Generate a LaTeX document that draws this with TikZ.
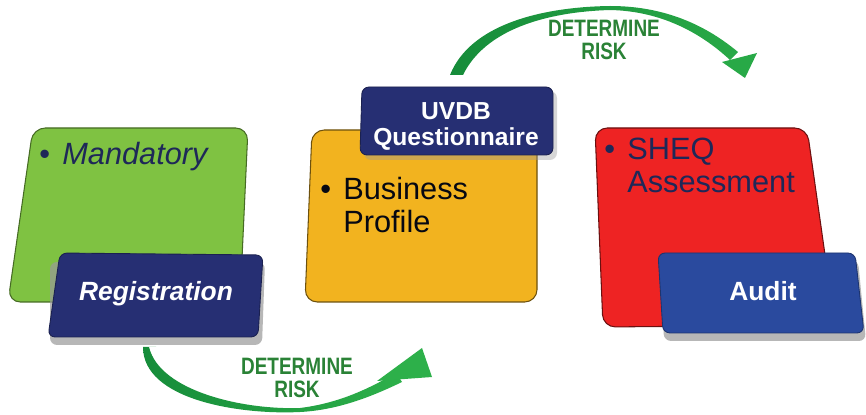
\documentclass[tikz,border=0pt]{standalone}
\usepackage{fontspec}
\setmainfont{Liberation Sans}
\newfontfamily\narrowfont[FakeStretch=0.8]{Liberation Sans}
\usetikzlibrary{positioning}

\definecolor{padgreen}{HTML}{7FC242}
\definecolor{padyellow}{HTML}{F2B31F}
\definecolor{padred}{HTML}{EE2323}
\definecolor{tagnavy}{HTML}{262F73}
\definecolor{tagblue}{HTML}{2A4A9E}
\definecolor{inknavy}{HTML}{1E2858}
\definecolor{swooshdark}{HTML}{168C3A}
\definecolor{swooshlight}{HTML}{2DB04A}
\definecolor{riskgreen}{HTML}{2A8236}

\tikzset{
  pad/.style={rounded corners=7pt, line width=0.6pt},
  tag/.style={rounded corners=4pt, line width=0.5pt},
  dropfill/.style={rounded corners=4pt, fill=black!40, opacity=0.7},
  padtext/.style={inner sep=0pt, anchor=north west, align=left, text=inknavy,
    font=\fontsize{17.5}{18.5}\selectfont},
  tagtext/.style={inner sep=0pt, text=white, align=center,
    font=\bfseries\fontsize{15}{16}\selectfont},
  risktext/.style={inner sep=0pt, text=riskgreen, align=center,
    font=\narrowfont\bfseries\fontsize{13.5}{13.5}\selectfont}
}

\begin{document}
\begin{tikzpicture}[x=0.02cm, y=-0.02cm]
\useasboundingbox (0,0) rectangle (866,415);

\filldraw[pad, fill=padgreen, draw=padgreen!55!black] (33,128) -- (248,128) -- (240,302) -- (8,302) -- cycle;
\fill[dropfill] (50,262) -- (265,262) -- (262,345) -- (50,345) -- cycle;
\filldraw[tag, fill=tagnavy, draw=tagnavy!70!black] (60,253) -- (263,255) -- (258,337) -- (48,337) -- cycle;

\filldraw[pad, fill=padyellow, draw=padyellow!45!black] (312,130) -- (537,130) -- (537,302) -- (305,302) -- cycle;
\fill[dropfill, opacity=0.4] (365,91) -- (557,91) -- (557,160) -- (364,160) -- cycle;
\filldraw[tag, fill=tagnavy, draw=tagnavy!70!black] (362,87) -- (553,87) -- (553,155) -- (360,155) -- cycle;

\filldraw[pad, fill=padred, draw=padred!45!black] (595,128) -- (807,128) -- (835,325) -- (603,327) -- cycle;
\fill[dropfill] (660,260) -- (858,260) -- (866,341) -- (664,341) -- cycle;
\filldraw[tag, fill=tagblue, draw=tagblue!70!black] (658,253) -- (855,253) -- (864,333) -- (663,333) -- cycle;

\coordinate (lowtail) at (149,347);
\coordinate (lowtip) at (422,348);
\coordinate (hightail) at (456,75);
\coordinate (hightip) at (745,78);

\shade[left color=swooshdark, right color=swooshlight] (143,347) .. controls (143,400) and (240,415) .. (300,412)
  .. controls (340,410) and (375,395) .. (402,382) -- (396,373) .. controls (370,388) and (340,403) .. (300,408)
  .. controls (245,410) and (160,392) .. (lowtail) -- (156,347) -- cycle;
\fill[swooshlight] (377,381) -- (lowtip) -- (432,377) -- cycle;

\shade[left color=swooshdark, right color=swooshlight!80!swooshdark] (450,75) .. controls (470,25) and (540,7) .. (610,6)
  .. controls (660,6) and (702,22) .. (738,52) -- (730,60) .. controls (700,32) and (660,11) .. (610,10)
  .. controls (545,12) and (485,30) .. (463,75) -- (hightail) -- cycle;
\fill[swooshlight!80!swooshdark] (722,62) -- (757,53) -- (hightip) -- cycle;

\node[padtext] (mand) at (62,142) {\llap{\textbullet\hspace{7pt}}\itshape Mandatory};
\node[padtext, text=black!80!inknavy] (profile) at (343,177) {\llap{\textbullet\hspace{7pt}}Business\\Profile};
\node[padtext] (sheq) at (627,138) {\llap{\textbullet\hspace{7pt}}SHEQ\\Assessment};

\node[tagtext, anchor=base, font=\bfseries\itshape\fontsize{15}{16}\selectfont] (reg) at (156,301) {Registration};
\node[tagtext, anchor=north, font=\bfseries\fontsize{14}{14.7}\selectfont] (uvdb) at (456,102) {UVDB\\Questionnaire};
\node[tagtext, anchor=base] (audit) at (763,301) {Audit};

\node[risktext] (lowrisk) at (297,378) {DETERMINE\\RISK};
\node[risktext] (highrisk) at (604,40) {DETERMINE\\RISK};
\end{tikzpicture}
\end{document}
